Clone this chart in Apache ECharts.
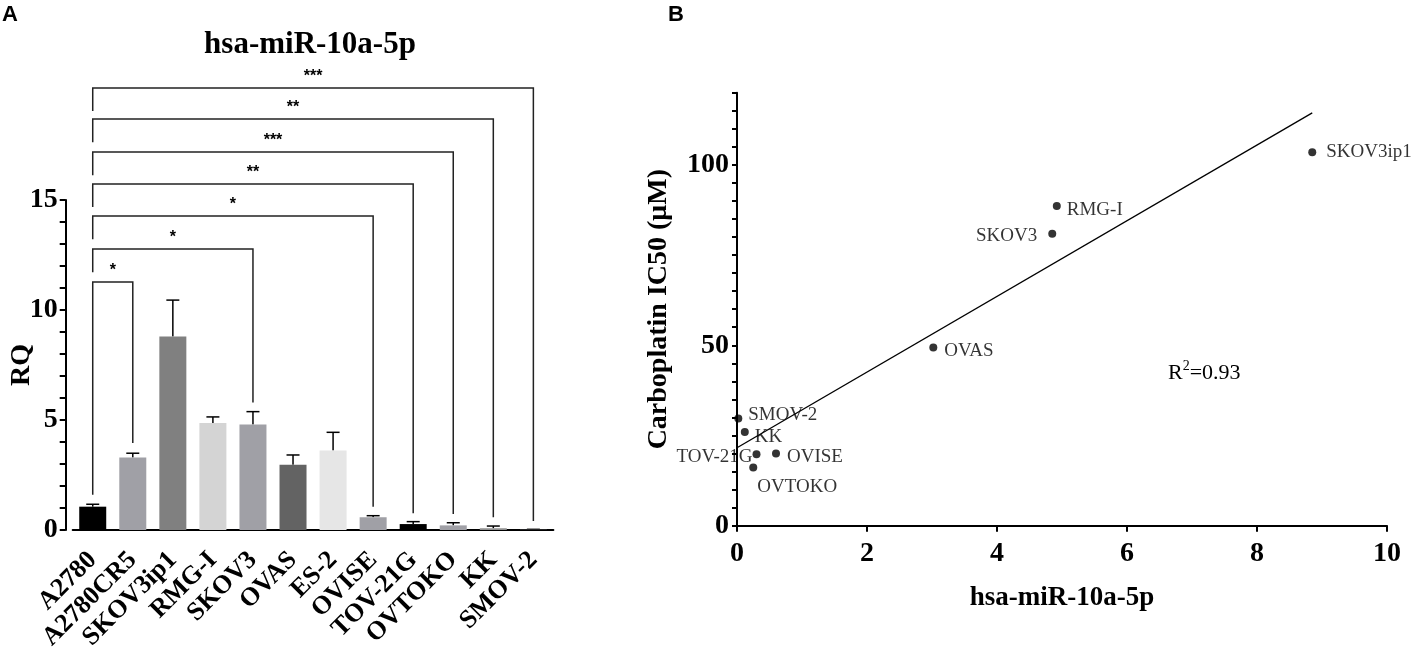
<!DOCTYPE html>
<html>
<head>
<meta charset="utf-8">
<script src="https://cdn.jsdelivr.net/npm/echarts@6/dist/echarts.min.js"></script>
<style>html,body{margin:0;background:#fff}#main{width:1418px;height:648px}</style>
</head>
<body>
<div id="main"></div>
<script>
//A图：各细胞系 RQ
var cellLines=['A2780','A2780CR5','SKOV3ip1','RMG-I','SKOV3','OVAS','ES-2','OVISE','TOV-21G','OVTOKO','KK','SMOV-2'];
var rqMean=[1.06,3.30,8.79,4.86,4.80,2.97,3.61,0.58,0.27,0.21,0.08,0.01];
var rqErr=[0.11,0.19,1.66,0.28,0.58,0.44,0.83,0.07,0.11,0.12,0.10,0.02];
var barColors=['#000000','#a0a0a6','#808080','#d4d4d4','#a0a0a6','#636363','#e6e6e6','#a0a0a6','#000000','#a0a0a6','#909090','#a0a0a6'];
//显著性标记（均与 A2780 比较）
var sigTo=[1,4,7,8,9,10,11];
var sigLevel=[11.27,12.77,14.27,15.73,17.18,18.68,20.09];
var sigLeftFoot=[1.6,11.72,13.22,14.68,16.13,17.63,19.04];
var sigFoot=[3.95,5.79,1.06,0.76,0.73,0.58,0.41];
var sigStars=['*','*','*','**','***','**','***'];
//B图：散点
var ptNames=['SKOV3ip1','RMG-I','SKOV3','OVAS','SMOV-2','KK','TOV-21G','OVISE','OVTOKO'];
var ptX=[8.85,4.92,4.85,3.02,0.02,0.12,0.30,0.60,0.25];
var ptY=[103.5,88.6,80.9,49.4,29.7,26.0,19.8,20.0,16.1];
//回归线端点
var fitX=[0,8.85];
var fitY=[21.6,114.4];

var serif='Liberation Serif';
var ptLabel={
    'SKOV3ip1':{position:'right',distance:10},
    'RMG-I':{position:'right',distance:6,offset:[0,4]},
    'SKOV3':{position:'left',distance:11,offset:[0,2]},
    'OVAS':{position:'right',distance:7,offset:[0,4]},
    'SMOV-2':{position:'right',distance:6,offset:[0,-4]},
    'KK':{position:'right',distance:6,offset:[0,5]},
    'TOV-21G':{position:'left',distance:0,offset:[0,3]},
    'OVISE':{position:'right',distance:7,offset:[0,3]},
    'OVTOKO':{position:'bottom',distance:6,offset:[44,0]}
};

var myChart=echarts.init(document.getElementById('main'));
var option={
    animation:false,
    graphic:[
        {type:'text',left:2,top:4,style:{text:'A',font:'bold 22px "Liberation Sans"',fill:'#000'}},
        {type:'text',left:668,top:4,style:{text:'B',font:'bold 22px "Liberation Sans"',fill:'#000'}},
        {type:'text',x:310,y:45,style:{text:'hsa-miR-10a-5p',font:'bold 31px "Liberation Serif"',fill:'#000',align:'center',verticalAlign:'middle'}},
        {type:'text',x:1168,y:373,style:{
            text:'{a|R}{s|2}{a|=0.93}',verticalAlign:'middle',
            rich:{a:{fontFamily:serif,fontSize:22,color:'#000'},s:{fontFamily:serif,fontSize:14,color:'#000',verticalAlign:'top',padding:[0,0,14,0]}}
        }}
    ],
    grid:[
        {left:72.7,top:200,width:480.7,height:330,outerBoundsMode:'none'},
        {left:737,top:92.7,width:650,height:433,outerBoundsMode:'none'}
    ],
    xAxis:[
        {
            gridIndex:0,type:'category',data:cellLines,
            axisLine:{lineStyle:{color:'#000',width:2}},
            axisTick:{alignWithLabel:true,length:12,lineStyle:{color:'#000',width:2}},
            axisLabel:{rotate:45,margin:26,interval:0,color:'#000',fontFamily:serif,fontWeight:'bold',fontSize:26}
        },
        {
            gridIndex:1,type:'value',min:0,max:10,interval:2,
            name:'hsa-miR-10a-5p',nameLocation:'middle',nameGap:59,nameMoveOverlap:false,
            nameTextStyle:{color:'#000',fontFamily:serif,fontWeight:'bold',fontSize:27},
            axisLine:{lineStyle:{color:'#000',width:2}},
            axisTick:{length:6,lineStyle:{color:'#000',width:2}},
            axisLabel:{margin:14,color:'#000',fontFamily:serif,fontWeight:'bold',fontSize:28},
            splitLine:{show:false}
        }
    ],
    yAxis:[
        {
            gridIndex:0,type:'value',min:0,max:15,interval:1,offset:7,
            name:'RQ',nameLocation:'middle',nameGap:30,nameMoveOverlap:false,
            nameTextStyle:{color:'#000',fontFamily:serif,fontWeight:'bold',fontSize:28},
            axisLine:{show:true,lineStyle:{color:'#000',width:2}},
            axisTick:{show:true,length:6,lineStyle:{color:'#000',width:2}},
            axisLabel:{margin:8,color:'#000',fontFamily:serif,fontWeight:'bold',fontSize:28,
                formatter:function(v){return v%5==0?v:'';}},
            splitLine:{show:false}
        },
        {
            gridIndex:1,type:'value',min:0,max:120,interval:5,
            name:'Carboplatin IC50 (μM)',nameLocation:'middle',nameGap:64,nameMoveOverlap:false,
            nameTextStyle:{color:'#000',fontFamily:serif,fontWeight:'bold',fontSize:28},
            axisLine:{show:true,lineStyle:{color:'#000',width:2}},
            axisTick:{show:true,length:5,lineStyle:{color:'#000',width:2}},
            axisLabel:{margin:8,color:'#000',fontFamily:serif,fontWeight:'bold',fontSize:28,
                formatter:function(v){return v%50==0?v:'';}},
            splitLine:{show:false}
        }
    ],
    series:[
        {
            type:'bar',xAxisIndex:0,yAxisIndex:0,barWidth:27,
            data:rqMean.map(function(v,i){return {value:v,itemStyle:{color:barColors[i]}};})
        },
        //误差线
        {
            type:'custom',xAxisIndex:0,yAxisIndex:0,clip:false,
            data:rqMean.map(function(v,i){return [i,v,v+rqErr[i]];}),
            renderItem:function(params,api){
                var lo=api.coord([api.value(0),api.value(1)]);
                var hi=api.coord([api.value(0),api.value(2)]);
                var st={stroke:'#000',lineWidth:1.5};
                return {type:'group',children:[
                    {type:'line',shape:{x1:lo[0],y1:lo[1],x2:hi[0],y2:hi[1]},style:st},
                    {type:'line',shape:{x1:hi[0]-6.5,y1:hi[1],x2:hi[0]+6.5,y2:hi[1]},style:st}
                ]};
            }
        },
        //显著性括号
        {
            type:'custom',xAxisIndex:0,yAxisIndex:0,clip:false,
            data:sigTo.map(function(t,i){return [0,sigLevel[i],t,sigFoot[i],sigLeftFoot[i]];}),
            renderItem:function(params,api){
                var i=params.dataIndex;
                var a=api.coord([0,api.value(4)]);
                var top0=api.coord([0,api.value(1)]);
                var top1=api.coord([api.value(2),api.value(1)]);
                var b=api.coord([api.value(2),api.value(3)]);
                return {type:'group',children:[
                    {type:'polyline',shape:{points:[a,top0,top1,b]},style:{stroke:'#222',lineWidth:1.5,fill:null}},
                    {type:'text',x:(top0[0]+top1[0])/2,y:top0[1]-3,style:{text:sigStars[i],font:'bold 16px "Liberation Sans"',fill:'#000',align:'center',verticalAlign:'bottom'}}
                ]};
            }
        },
        {
            type:'scatter',xAxisIndex:1,yAxisIndex:1,symbolSize:8,
            itemStyle:{color:'#000'},
            data:ptNames.map(function(n,i){
                var l=ptLabel[n];
                return {value:[ptX[i],ptY[i]],label:{show:true,formatter:n,position:l.position,distance:l.distance,offset:l.offset||[0,0],
                    color:'#000',fontFamily:serif,fontSize:19}};
            })
        },
        {
            type:'line',xAxisIndex:1,yAxisIndex:1,symbol:'none',
            lineStyle:{color:'#000',width:1.3},
            data:fitX.map(function(x,i){return [x,fitY[i]];})
        }
    ]
};
myChart.setOption(option);
window.addEventListener("resize",function(){
    myChart.resize();
});
</script>
</body>
</html>
